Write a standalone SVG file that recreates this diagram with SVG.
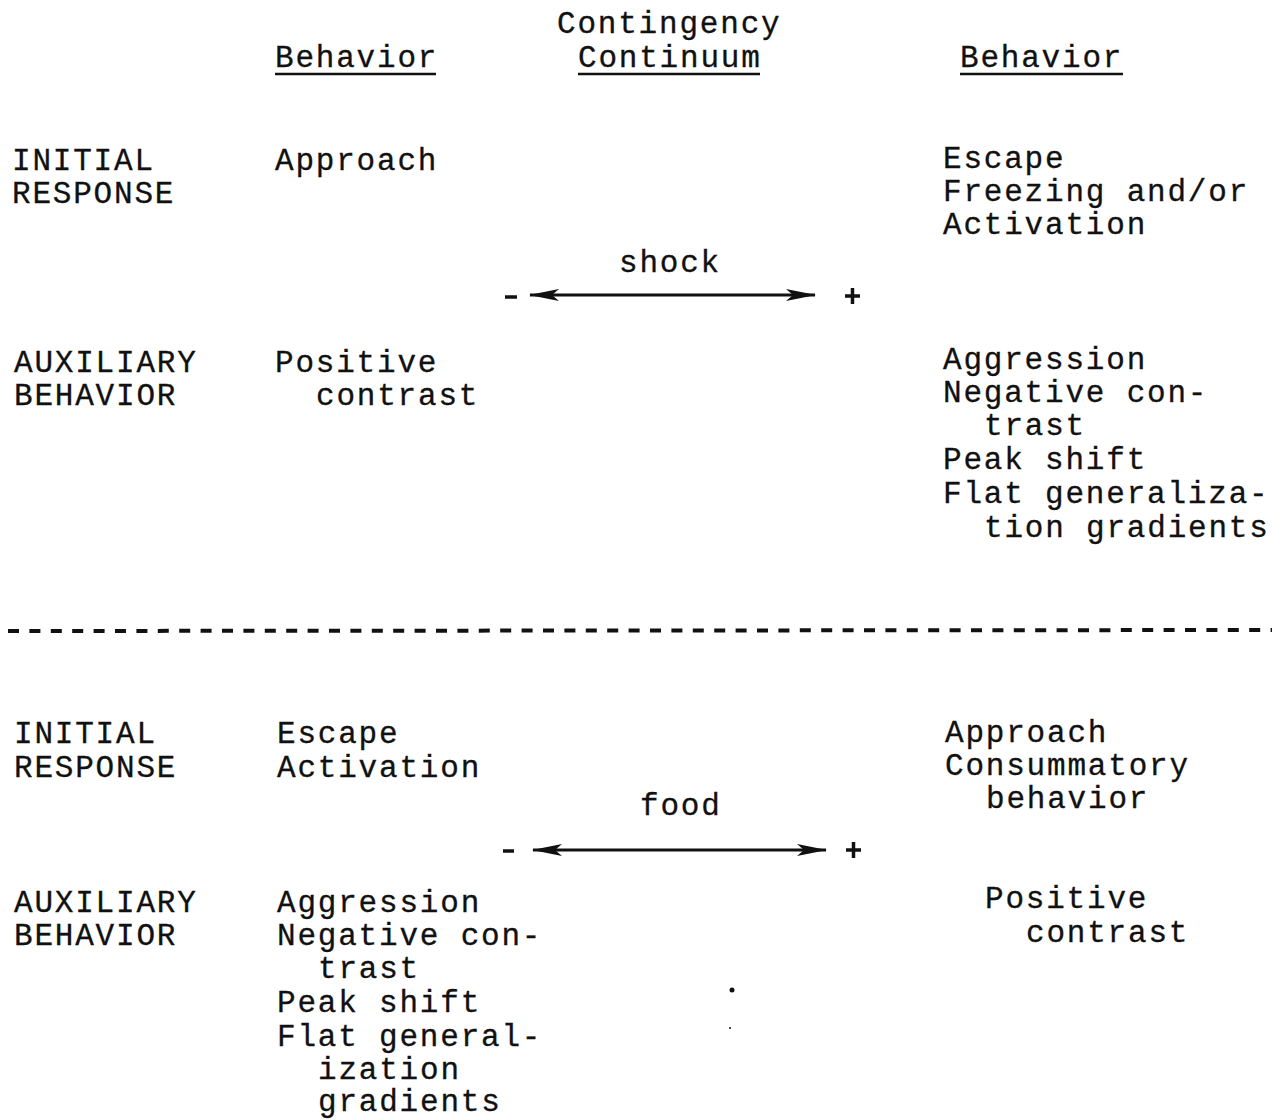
<svg xmlns="http://www.w3.org/2000/svg" width="1282" height="1120" viewBox="0 0 1282 1120">
<style>
text{font-family:"Liberation Mono","DejaVu Sans Mono",monospace;font-size:31px;letter-spacing:1.8px;fill:#111;stroke:#111;stroke-width:0.3px}
.u{stroke:#111;stroke-width:2.5}
.ax{stroke:#111;stroke-width:3;fill:none}
.sg{stroke:#111;stroke-width:3.5;fill:none}
</style>
<defs>
<marker id="ah" viewBox="0 0 30 14" refX="29" refY="7" markerWidth="30" markerHeight="14" markerUnits="userSpaceOnUse" orient="auto-start-reverse">
<path d="M0,1 L30,7 L0,13 L7,7 Z" fill="#111"/>
</marker>
</defs>
<rect width="1282" height="1120" fill="#fff"/>
<g id="header">
<text x="557" y="33">Contingency</text>
<text x="275" y="67">Behavior</text>
<line class="u" x1="275" y1="74" x2="436" y2="74"/>
<text x="578" y="67">Continuum</text>
<line class="u" x1="578" y1="74" x2="760" y2="74"/>
<text x="960" y="67">Behavior</text>
<line class="u" x1="960" y1="74" x2="1123" y2="74"/>
</g>
<g id="shock-initial-label"><text x="12" y="170">INITIAL</text><text x="12" y="203">RESPONSE</text></g>
<g id="shock-initial-neg"><text x="275" y="170">Approach</text></g>
<g id="shock-initial-pos"><text x="943" y="168">Escape</text><text x="943" y="201">Freezing and/or</text><text x="943" y="234">Activation</text></g>
<g id="shock-label"><text x="619" y="272">shock</text></g>
<g id="shock-aux-label"><text x="14" y="372">AUXILIARY</text><text x="14" y="405">BEHAVIOR</text></g>
<g id="shock-aux-neg"><text x="275" y="372">Positive</text><text x="316" y="405">contrast</text></g>
<g id="shock-aux-pos"><text x="943" y="369">Aggression</text><text x="943" y="402">Negative con-</text><text x="984" y="435">trast</text><text x="943" y="469">Peak shift</text><text x="943" y="503">Flat generaliza-</text><text x="984" y="537">tion gradients</text></g>
<g id="food-initial-label"><text x="14" y="743">INITIAL</text><text x="14" y="777">RESPONSE</text></g>
<g id="food-initial-neg"><text x="277" y="743">Escape</text><text x="277" y="777">Activation</text></g>
<g id="food-initial-pos"><text x="945" y="742">Approach</text><text x="945" y="775">Consummatory</text><text x="986" y="808">behavior</text></g>
<g id="food-label"><text x="640" y="815">food</text></g>
<g id="food-aux-label"><text x="14" y="912">AUXILIARY</text><text x="14" y="945">BEHAVIOR</text></g>
<g id="food-aux-neg"><text x="277" y="912">Aggression</text><text x="277" y="945">Negative con-</text><text x="318" y="978">trast</text><text x="277" y="1012">Peak shift</text><text x="277" y="1046">Flat general-</text><text x="318" y="1079">ization</text><text x="318" y="1111">gradients</text></g>
<g id="food-aux-pos"><text x="985" y="908">Positive</text><text x="1026" y="942">contrast</text></g>
<g id="connectors">
<line class="ax" x1="530" y1="295" x2="815" y2="295" marker-start="url(#ah)" marker-end="url(#ah)"/>
<line class="sg" x1="505" y1="297" x2="517" y2="297"/>
<line class="sg" x1="845" y1="296" x2="860" y2="296"/><line class="sg" x1="852.5" y1="288" x2="852.5" y2="304"/>
<line class="ax" x1="533" y1="850" x2="826" y2="850" marker-start="url(#ah)" marker-end="url(#ah)"/>
<line class="sg" x1="503" y1="851" x2="514" y2="851"/>
<line class="sg" x1="846" y1="850" x2="861" y2="850"/><line class="sg" x1="853.5" y1="842" x2="853.5" y2="858"/>
</g>
<g id="divider">
<line x1="8" y1="631" x2="1272" y2="630" stroke="#111" stroke-width="4" stroke-dasharray="11 10.4"/>
</g>
<g id="specks">
<circle cx="732" cy="990" r="2.5" fill="#111"/>
<circle cx="730" cy="1028" r="1" fill="#111"/>
</g>
</svg>
